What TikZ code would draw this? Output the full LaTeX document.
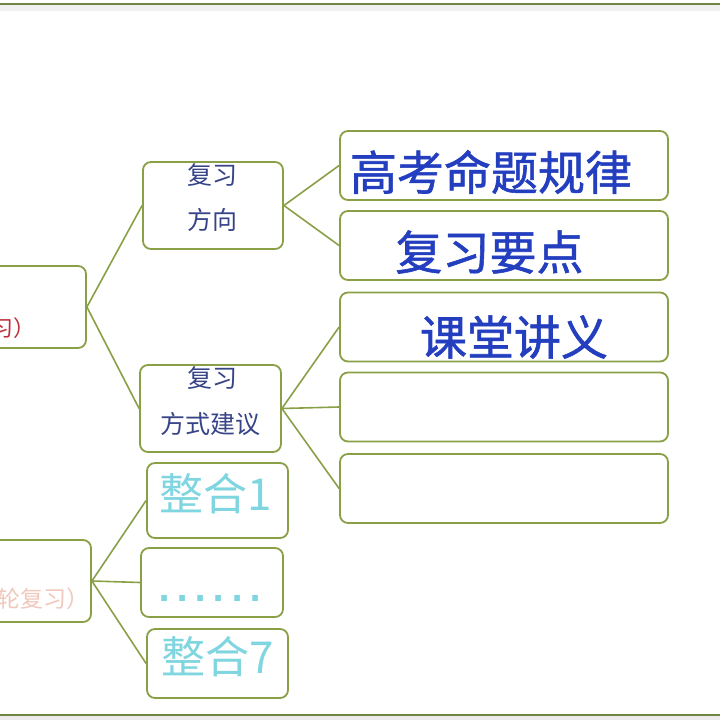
\documentclass[tikz,border=0pt]{standalone}
\usepackage{fontspec}
\newfontfamily\cjk{Noto Sans CJK SC}
\newfontfamily\cjkheavy[FakeBold=1.2]{Noto Sans CJK SC}
\definecolor{boxgreen}{RGB}{137,160,70}
\definecolor{topline}{RGB}{112,132,68}
\definecolor{bigblue}{RGB}{35,62,190}
\definecolor{navy}{RGB}{55,68,135}
\definecolor{redtxt}{RGB}{190,45,55}
\definecolor{salmon}{RGB}{240,200,188}
\definecolor{cyantxt}{RGB}{128,214,224}
\tikzset{
  box/.style={draw=boxgreen, line width=1.8pt, rounded corners=8pt, fill=white, inner sep=0pt},
  conn/.style={draw=boxgreen, line width=1.6pt},
  big/.style={font=\cjkheavy\fontsize{47}{50}\selectfont, text=bigblue, inner sep=0pt},
  small/.style={font=\cjk\fontsize{25}{30}\selectfont, text=navy, inner sep=0pt},
  whole/.style={font=\cjk\fontsize{44}{48}\selectfont, text=cyantxt, inner sep=0pt},
  side/.style={font=\cjk\fontsize{22}{26}\selectfont, inner sep=0pt}
}
\begin{document}
\begin{tikzpicture}[x=1pt,y=-1pt]
\useasboundingbox (0,0) rectangle (720,720);
\fill[white] (0,0) rectangle (720,720);
% top and bottom frame lines
\fill[gray!12] (0,5) rectangle (720,11);
\draw[topline, line width=2.5pt] (0,4) -- (720,4);
\fill[gray!15] (0,716) rectangle (720,720);
\draw[topline, line width=2.5pt] (0,715) -- (720,715);
% left boxes
\node[box, minimum width=146pt, minimum height=82pt] (A) at (13,307) {};
\node[side, text=redtxt, anchor=east] (At) at (36,328) {（一轮复习）};
\node[box, minimum width=151pt, minimum height=82pt] (D) at (15.5,581) {};
\node[side, text=salmon, anchor=east, font=\cjk\fontsize{23}{26}\selectfont] (Dt) at (90,599) {（二轮复习）};
% middle boxes
\node[box, minimum width=140pt, minimum height=87pt] (B) at (213,205.5) {};
\node[small] (B1) at (212,175) {复习};
\node[small] (B2) at (212,220) {方向};
\node[box, minimum width=141pt, minimum height=87pt] (C) at (210.5,408.5) {};
\node[small] (C1) at (212,378) {复习};
\node[small] (C2) at (210,424) {方式建议};
\node[box, minimum width=141pt, minimum height=75pt] (E) at (217.5,500.5) {};
\node[whole] (Et) at (216,494) {整合1};
\node[box, minimum width=142pt, minimum height=69pt] (F) at (212,582.5) {};
\node[whole, font=\fontspec{DejaVu Sans Bold}\fontsize{32}{34}\selectfont] (Ft) at (210,598) {.\kern6pt.\kern6pt.\kern6pt.\kern6pt.\kern6pt.};
\node[box, minimum width=141pt, minimum height=69pt] (G) at (217.5,663.5) {};
\node[whole] (Gt) at (218,657) {整合7};
% right boxes
\node[box, minimum width=328pt, minimum height=69pt] (R1) at (504,165.5) {};
\node[big] (R1t) at (491,172) {高考命题规律};
\node[box, minimum width=328pt, minimum height=69pt] (R2) at (504,245.5) {};
\node[big] (R2t) at (489.5,252) {复习要点};
\node[box, minimum width=328pt, minimum height=69pt] (R3) at (504,327) {};
\node[big] (R3t) at (514,337) {课堂讲义};
\node[box, minimum width=328pt, minimum height=69pt] (R4) at (504,407) {};
\node[box, minimum width=328pt, minimum height=69pt] (R5) at (504,488.5) {};
% connectors
\draw[conn] (A.east) -- (B.west);
\draw[conn] (A.east) -- (C.west);
\draw[conn] (B.east) -- (R1.west);
\draw[conn] (B.east) -- (R2.west);
\draw[conn] (C.east) -- (R3.west);
\draw[conn] (C.east) -- (R4.west);
\draw[conn] (C.east) -- (R5.west);
\draw[conn] (D.east) -- (E.west);
\draw[conn] (D.east) -- (F.west);
\draw[conn] (D.east) -- (G.west);
\end{tikzpicture}
\end{document}
